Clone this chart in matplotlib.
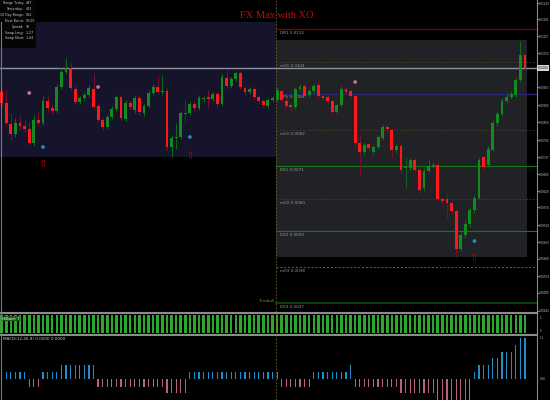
import matplotlib
matplotlib.use('Agg')
import matplotlib.pyplot as plt
from matplotlib.patches import Rectangle
from matplotlib.lines import Line2D
import numpy as np

plt.rcParams['font.family'] = ['DejaVu Sans']

W, H = 550, 400
BASE = -0.0004532   # price of 0 points
POINT = 0.0000322   # price of one point

# ---- candles, in points above BASE ----
opens = [308, 297, 276, 266, 277, 274, 271, 257, 280, 277, 299, 292, 289, 313, 328, 332, 311, 298, 302, 305,
         311, 294, 280, 273, 283, 291, 303, 281, 297, 290, 302, 287, 294, 307, 313, 308, 309, 253, 262, 263,
         287, 287, 296, 292, 301, 303, 301, 306, 296, 322, 314, 321, 327, 312, 308, 311, 303, 299, 294, 300,
         300, 309, 299, 295, 293, 311, 314, 305, 309, 315, 304, 303, 299, 288, 295, 311, 309, 304, 257, 248,
         256, 248, 253, 262, 273, 270, 250, 254, 232, 232, 240, 230, 212, 229, 234, 235, 201, 201, 197, 189,
         151, 165, 176, 190, 202, 243, 235, 250, 277, 286, 299, 303, 305, 320, 345]
highs = [312, 310, 287, 282, 285, 280, 278, 285, 288, 304, 304, 296, 316, 333, 342, 337, 314, 304, 308, 315,
         327, 296, 282, 286, 294, 305, 305, 300, 300, 305, 305, 296, 310, 316, 324, 325, 312, 265, 277, 289,
         300, 299, 299, 305, 304, 310, 308, 308, 326, 330, 323, 329, 329, 314, 313, 313, 305, 301, 302, 304,
         313, 311, 302, 297, 313, 316, 316, 311, 317, 320, 306, 305, 301, 297, 314, 313, 311, 306, 265, 257,
         258, 255, 265, 276, 275, 272, 256, 256, 242, 242, 243, 235, 232, 240, 238, 238, 203, 207, 199, 191,
         168, 180, 193, 205, 243, 245, 254, 280, 289, 302, 307, 309, 323, 359, 347]
lows = [294, 275, 260, 263, 270, 268, 255, 254, 274, 275, 288, 286, 287, 311, 326, 310, 296, 296, 300, 303,
        291, 278, 270, 271, 281, 289, 280, 279, 290, 287, 285, 284, 292, 305, 306, 305, 250, 243, 251, 261,
        277, 285, 289, 290, 298, 292, 299, 293, 294, 312, 312, 319, 311, 305, 306, 301, 297, 293, 292, 298,
        298, 298, 290, 290, 291, 309, 302, 303, 307, 302, 300, 296, 286, 286, 293, 306, 302, 254, 223, 245,
        250, 246, 251, 260, 269, 242, 247, 227, 213, 229, 227, 207, 209, 227, 232, 199, 196, 182, 186, 143,
        149, 162, 173, 187, 200, 230, 233, 248, 274, 284, 297, 301, 303, 318, 330]
closes = [297, 277, 266, 277, 274, 271, 257, 280, 277, 299, 292, 289, 313, 328, 332, 312, 298, 302, 305, 312,
          293, 280, 273, 283, 291, 303, 282, 297, 293, 302, 288, 294, 307, 313, 308, 309, 253, 262, 263, 287,
          286, 296, 292, 302, 302, 301, 306, 296, 323, 314, 321, 327, 313, 308, 311, 303, 299, 295, 300, 302,
          310, 300, 294, 293, 311, 313, 304, 309, 314, 304, 302, 299, 288, 295, 311, 308, 304, 257, 248, 255,
          252, 253, 263, 273, 271, 250, 254, 230, 233, 240, 230, 210, 229, 234, 235, 201, 199, 197, 189, 151,
          165, 176, 190, 202, 240, 233, 251, 277, 286, 299, 303, 306, 320, 345, 332]

# signal markers (candle index, points)
pink_idx = [6, 21, 77]
pink_val = [307, 313, 318]
blue_idx = [9, 41, 103]
blue_val = [253, 263, 159]
arrow_idx = [9, 41, 103]
arrow_val = [237, 245, 143]

# pivot levels
level_names = ['DR1', 'm01', 'DPV', 'm51', 'DS1', 'm02', 'DS2', 'm03', 'DS3']
level_vals = [371, 338, 306, 270, 234, 201, 169, 133, 97]
level_kind = ['r', 'm', 'p', 'm', 's', 'm', 's', 'm3', 's3']

# zones (points)
yday_zone = (243, 378)
today_zone = (143, 360)

# stats box
stat_names = ['Range Today:', 'Yesterday:', '10 Day Range:', 'Next Bar in:', 'Spread:', 'Swap Long:', 'Swap Short:']
stat_vals = ['497', '433', '564', '10:05', '18', '-1.27', '-1.84']

# lower panels
trend_vals = [1] * 115
macd_vals = [1, 1, 1, 1, 1, 1, -1.2, -1.2, -1.2, 1, 1, 1, 1, 2, 2, 2, 2, 2, 2, 2,
             2, -1.2, -1.2, -1.2, -1.2, -1.2, -1.2, -1.2, -1.2, -1.2, -1.2, -1.2, -1.2, -1.2, -1.2, -1.2, -2.1, -2.1, -2.1, -2.1,
             -2.1, 1, 1, 1, 1, 1, 1, 1, 1, 1, 1, 1, 1, 1, 1, 1, 1, 1, 1, 1,
             1, -1.2, -1.2, -1.2, -1.2, -1.2, -1.2, -1.2, 1, 1, 1, 1, 1, 1, 1, 1, 2, -1.2, -1.2, -1.2,
             -1.2, -1.2, -1.2, -1.2, -1.2, -1.2, -1.2, -2.1, -2.1, -2.1, -2.1, -2.1, -2.1, -2.1, -2.1, -3.1, -3.1, -3.1, -3.1, -3.1,
             -3.1, -3.1, -3.1, 1, 2, 2, 2, 3, 3, 4, 4, 4, 5, 6, 6]

n = len(opens)
xs = np.arange(n)
SEP = 59.75          # day separator
X0, STEP = 1.7, 4.59  # pixel of candle 0, pixels per candle
xlim = ((0 - X0) / STEP, (537 - X0) / STEP)
TICKFONT = dict(family='Liberation Sans', size=2.2)


def px_axes(x0, y0, x1, y1):
    return fig.add_axes([x0 / W, 1 - y1 / H, (x1 - x0) / W, (y1 - y0) / H])


def price(p):
    return BASE + np.asarray(p) * POINT


fig = plt.figure(figsize=(5.5, 4), dpi=100, facecolor='black')

# ---------------- price panel ----------------
ax = px_axes(0, 0, 537, 312)
ax.set_facecolor('black')
ax.set_xlim(*xlim)
ax.set_ylim(price(400 - 312), price(400))

ax.add_patch(Rectangle((xlim[0], price(yday_zone[0])), SEP - xlim[0], price(yday_zone[1]) - price(yday_zone[0]),
                       facecolor='#15142b', edgecolor='none', zorder=0))
ax.add_patch(Rectangle((SEP, price(today_zone[0])), n - 0.5 - SEP, price(today_zone[1]) - price(today_zone[0]),
                       facecolor='#202226', edgecolor='none', zorder=0))
ax.axvline(SEP, color='#6b6b2a', lw=0.6, ls=(0, (2, 2)), zorder=1)

styles = {'r': ('#6a0a0a', '-', 1.0), 'm': ('#4a3c22', (0, (2, 2)), 0.6), 'p': ('#24247a', '-', 1.0),
          's': ('#157a15', '-', 0.8), 'm3': ('#6a6a14', (0, (2, 2)), 0.7), 's3': ('#0f4a0f', '-', 1.2)}
for name, v, k in zip(level_names, level_vals, level_kind):
    c, ls, lw = styles[k]
    ax.plot([SEP, xlim[1]], [price(v), price(v)], color=c, ls=ls, lw=lw, zorder=1)
    ax.text(SEP + 0.8, price(v - 3.5), f'{name} {price(v):.4f}', color='#9a9a9a', fontsize=3,
            va='center', ha='left', zorder=2)
ax.text(SEP - 0.3, price(level_vals[-1] + 2.5), 'Turnbull', color='#8a8a30', fontsize=3,
        va='center', ha='right', zorder=2)

# current price line
ax.axhline(price(closes[-1]), color='#8e92a0', lw=1.0, zorder=1)

o = np.array(opens); c = np.array(closes); hi = np.array(highs); lo = np.array(lows)
up = c >= o
for mask, body, wick in [(up, '#128a1e', '#0f6a1a'), (~up, '#ff1818', '#7a1030')]:
    ax.vlines(xs[mask], price(lo[mask]), price(hi[mask]), color=wick, lw=0.7, zorder=3)
    bot = np.minimum(o, c)[mask]
    ht = np.maximum(np.abs(c - o)[mask], 1)
    ax.bar(xs[mask], ht * POINT, bottom=price(bot), width=0.62, color=body, zorder=4)

ax.scatter(pink_idx, price(pink_val), s=7, marker='o', color='#c07a95', zorder=5, edgecolors='none')
ax.scatter(blue_idx, price(blue_val), s=7, marker='o', color='#1c8fd6', zorder=5, edgecolors='none')
ax.scatter(arrow_idx, price(arrow_val), s=28, marker=r'$\Uparrow$', color='#b00000', zorder=5,
           linewidths=0)

for s in ['top', 'left', 'bottom']:
    ax.spines[s].set_visible(False)
ax.spines['right'].set_color('#8a8a8a')
ax.set_xticks([])
ax.yaxis.tick_right()
tick_pts = [397, 381, 364, 347, 313, 295, 278, 260, 243, 226, 209, 193, 175, 158, 141, 124, 107, 89]
ax.set_yticks(price(tick_pts))
ax.set_yticklabels([f'{price(p):.5f}' for p in tick_pts], fontdict=TICKFONT)
ax.tick_params(axis='y', colors='#bdbdbd', length=1.2, pad=0.5, width=0.5)
ax.text(1.002, price(closes[-1]), f'{price(closes[-1]):.5f}', transform=ax.get_yaxis_transform(),
        color='black', va='center', ha='left', fontdict=TICKFONT,
        bbox=dict(boxstyle='square,pad=0.2', fc='#d8d8d8', ec='none'), zorder=6)

ax.text(277 / 537, 1 - 16 / 312, 'FX Max with XO', transform=ax.transAxes, color='#d80000',
        fontsize=7.5, family='Liberation Serif', ha='center', va='center', zorder=6)

# stats box
bx = px_axes(0, 0, 36, 48)
bx.set_xlim(0, 36); bx.set_ylim(48, 0)
bx.set_facecolor('#050505')
bx.set_xticks([]); bx.set_yticks([])
for s in bx.spines.values():
    s.set_visible(False)
for k, (nm, vv) in enumerate(zip(stat_names, stat_vals)):
    yy = 3.3 + k * 5.85
    bx.text(24, yy, nm, fontsize=2.3, color='#c8c8c8', ha='right', va='center')
    bx.text(25.5, yy, vv, fontsize=2.3, color='#c8c8c8', ha='left', va='center')

# ---------------- trend panel ----------------
tx = px_axes(0, 313, 537, 335)
tx.set_facecolor('black')
tx.set_xlim(*xlim); tx.set_ylim(0, 1)
tx.bar(xs, np.array(trend_vals) * 0.86, bottom=0.07, width=0.55, color='#2aa82a', zorder=2)
tx.axvline(SEP, color='#6b6b2a', lw=0.6, ls=(0, (2, 2)), zorder=3)
tx.spines['left'].set_visible(False)
for s in ['top', 'bottom']:
    tx.spines[s].set_color('#8c8c8c'); tx.spines[s].set_linewidth(1.5)
tx.spines['right'].set_color('#8a8a8a')
tx.set_xticks([])
tx.yaxis.tick_right()
tx.set_yticks([0.8, 0.2]); tx.set_yticklabels(['1', '0'], fontdict=TICKFONT)
tx.tick_params(axis='y', colors='#bdbdbd', length=0, pad=2)
tx.text(2 / 537, 0.75, 'Hilbert 7', transform=tx.transAxes, fontsize=3, color='white', va='center',
        ha='left', zorder=4, bbox=dict(boxstyle='square,pad=0.1', fc='#1a5a1a', ec='none'))

# ---------------- macd panel ----------------
mx = px_axes(0, 336, 537, 400)
mx.set_facecolor('black')
mx.set_xlim(*xlim); mx.set_ylim(-3.1, 6.3)
mv = np.array(macd_vals)
mx.bar(xs[mv > 0], mv[mv > 0], width=0.26, color='#1f8fc4', zorder=2)
mx.bar(xs[mv < 0], mv[mv < 0], width=0.26, color='#b8607e', zorder=2)
mx.axvline(SEP, color='#6b6b2a', lw=0.6, ls=(0, (2, 2)), zorder=3)
for s in ['top', 'left', 'bottom']:
    mx.spines[s].set_visible(False)
mx.spines['right'].set_color('#8a8a8a')
mx.set_xticks([])
mx.yaxis.tick_right()
mx.set_yticks([6.1, 0]); mx.set_yticklabels(['1.1', '0.00'], fontdict=TICKFONT)
mx.tick_params(axis='y', colors='#bdbdbd', length=0, pad=2)
mx.text(3 / 537, 1 - 3 / 64, 'MACD(12,26,9) 0.0000 0.0000', transform=mx.transAxes, fontsize=3,
        color='#c8c8c8', va='center', ha='left')

# window border on the left
fig.add_artist(Line2D([0.6 / W, 0.6 / W], [0, 1 - 22 / H], color='#7a7a7a', lw=0.8))

fig.savefig('out.png', dpi=100, facecolor='black')
